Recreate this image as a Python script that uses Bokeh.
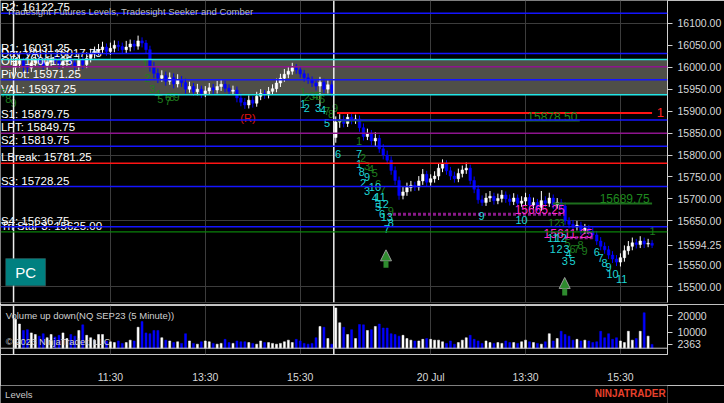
from bokeh.plotting import figure
from bokeh.layouts import column
from bokeh.models import (Range1d, FixedTicker, NumeralTickFormatter, Span, BoxAnnotation,
                          Label, Grid, Arrow, NormalHead, ColumnDataSource)
from bokeh.core.properties import value
from bokeh.embed import file_html
from bokeh.resources import INLINE

FONT = "Liberation Sans"
BG = "#000000"
UP = "#ffffff"
DOWN = "#0000ff"
GRID = "#3c3c3c"
AXIS_TXT = "#d8d8d8"
CYAN_TXT = "#1ed6d6"
GREEN_TXT = "#1f7d1f"

# ---------------- data: NQ SEP23, 5 minute bars (19 Jul 09:30 - 20 Jul 16:15) ----------------
opens = [16000, 16008, 16015, 16002, 15998, 16010, 16018, 16012, 16004, 16012,
         16020, 16014, 16006, 16013, 16019, 16010, 16002, 16016, 16006, 16020,
         16030, 16036, 16040, 16046, 16036, 16043, 16050, 16047, 16040, 16046,
         16053, 16048, 16060, 16055, 16040, 16000, 15986, 15975, 15981, 15968,
         15976, 15962, 15972, 15965, 15950, 15956, 15944, 15950, 15940, 15946,
         15953, 15948, 15956, 15961, 15952, 15945, 15948, 15930, 15920, 15914,
         15925, 15918, 15934, 15940, 15937, 15945, 15951, 15964, 15975, 15984,
         15991, 15999, 15994, 15985, 15976, 15971, 15964, 15957, 15966, 15950,
         15960, 15840, 15875, 15880, 15872, 15886, 15879, 15882, 15862, 15842,
         15848, 15832, 15838, 15814, 15800, 15788, 15765, 15742, 15708, 15716,
         15726, 15731, 15727, 15741, 15756, 15738, 15746, 15752, 15770, 15781,
         15764, 15752, 15746, 15758, 15766, 15770, 15742, 15722, 15698, 15692,
         15702, 15706, 15696, 15701, 15709, 15700, 15694, 15702, 15690, 15695,
         15703, 15686, 15692, 15681, 15696, 15690, 15702, 15686, 15692, 15684,
         15650, 15642, 15636, 15640, 15628, 15633, 15626, 15618, 15604, 15592,
         15584, 15572, 15563, 15556, 15566, 15582, 15592, 15600, 15596, 15604,
         15597, 15599]
highs = [16021, 16027, 16022, 16013, 16024, 16030, 16026, 16022, 16025, 16033,
         16029, 16024, 16026, 16031, 16027, 16020, 16030, 16024, 16034, 16042,
         16047, 16053, 16058, 16054, 16056, 16061, 16060, 16056, 16060, 16063,
         16062, 16072, 16068, 16062, 16049, 16012, 15997, 15993, 15990, 15988,
         15986, 15984, 15980, 15974, 15967, 15964, 15962, 15958, 15957, 15964,
         15962, 15969, 15971, 15969, 15961, 15958, 15956, 15940, 15930, 15936,
         15934, 15944, 15950, 15948, 15955, 15961, 15974, 15985, 15996, 16002,
         16010, 16007, 16002, 15994, 15986, 15979, 15973, 15978, 15974, 15970,
         15968, 15888, 15893, 15890, 15896, 15894, 15892, 15890, 15872, 15860,
         15857, 15852, 15846, 15825, 15810, 15797, 15774, 15751, 15727, 15737,
         15741, 15739, 15752, 15768, 15764, 15756, 15763, 15781, 15790, 15788,
         15773, 15762, 15769, 15776, 15783, 15778, 15751, 15731, 15708, 15713,
         15718, 15714, 15712, 15720, 15717, 15710, 15713, 15710, 15706, 15714,
         15711, 15703, 15700, 15718, 15706, 15714, 15710, 15702, 15700, 15692,
         15658, 15652, 15650, 15648, 15643, 15641, 15635, 15627, 15613, 15601,
         15593, 15581, 15572, 15576, 15594, 15604, 15612, 15609, 15615, 15612,
         15609, 15606]
lows = [15988, 15999, 15990, 15986, 15989, 16001, 16003, 15995, 15994, 16002,
        16005, 15996, 15998, 16003, 16000, 15993, 15994, 15996, 15998, 16011,
        16020, 16027, 16031, 16026, 16028, 16034, 16037, 16030, 16032, 16036,
        16038, 16040, 16045, 16031, 15990, 15975, 15964, 15967, 15958, 15960,
        15952, 15954, 15955, 15940, 15942, 15935, 15936, 15930, 15932, 15938,
        15938, 15940, 15946, 15943, 15936, 15937, 15920, 15911, 15905, 15906,
        15908, 15910, 15925, 15928, 15929, 15937, 15943, 15955, 15967, 15975,
        15983, 15985, 15976, 15967, 15962, 15955, 15947, 15912, 15941, 15940,
        15933, 15828, 15862, 15863, 15864, 15870, 15871, 15853, 15833, 15834,
        15822, 15820, 15805, 15790, 15779, 15755, 15732, 15698, 15699, 15707,
        15717, 15718, 15719, 15732, 15729, 15730, 15737, 15743, 15761, 15755,
        15743, 15737, 15738, 15749, 15757, 15733, 15713, 15689, 15684, 15684,
        15693, 15687, 15688, 15692, 15691, 15685, 15686, 15681, 15682, 15686,
        15677, 15678, 15672, 15673, 15681, 15682, 15677, 15678, 15675, 15641,
        15633, 15627, 15628, 15619, 15620, 15617, 15609, 15595, 15583, 15575,
        15563, 15554, 15547, 15546, 15557, 15573, 15583, 15587, 15588, 15588,
        15590, 15588]
closes = [16008, 16015, 16002, 15998, 16010, 16018, 16012, 16004, 16012, 16020,
          16014, 16006, 16013, 16019, 16010, 16002, 16016, 16006, 16020, 16030,
          16036, 16040, 16046, 16036, 16043, 16050, 16047, 16040, 16046, 16053,
          16048, 16060, 16055, 16040, 16000, 15986, 15975, 15981, 15968, 15976,
          15962, 15972, 15965, 15950, 15956, 15944, 15950, 15940, 15946, 15953,
          15948, 15956, 15961, 15952, 15945, 15948, 15930, 15920, 15914, 15925,
          15918, 15934, 15940, 15937, 15945, 15951, 15964, 15975, 15984, 15991,
          15999, 15994, 15985, 15976, 15971, 15964, 15957, 15966, 15950, 15960,
          15942, 15875, 15880, 15872, 15886, 15879, 15882, 15862, 15842, 15848,
          15832, 15838, 15814, 15800, 15788, 15765, 15742, 15708, 15716, 15726,
          15731, 15727, 15741, 15756, 15738, 15746, 15752, 15770, 15781, 15764,
          15752, 15746, 15758, 15766, 15770, 15742, 15722, 15698, 15692, 15702,
          15706, 15696, 15701, 15709, 15700, 15694, 15702, 15690, 15695, 15703,
          15686, 15692, 15681, 15696, 15690, 15702, 15686, 15692, 15684, 15650,
          15642, 15636, 15640, 15628, 15633, 15626, 15618, 15604, 15592, 15584,
          15572, 15563, 15556, 15566, 15582, 15592, 15600, 15596, 15604, 15597,
          15599, 15594.25]
volumes = [18000, 15000, 11000, 11500, 9500, 8500, 7500, 9000, 6500, 8500,
           7000, 8000, 9500, 6000, 8500, 7500, 11000, 14500, 8000, 6500,
           5000, 8500, 8500, 4500, 4000, 3500, 4500, 3000, 3500, 5000,
           4500, 13000, 16500, 9500, 9000, 11000, 11000, 6500, 5000, 4500,
           3500, 4000, 3000, 9000, 4500, 3000, 2500, 4000, 4500, 4000,
           3000, 2500, 3000, 5500, 3500, 3000, 4500, 4000, 4000, 3500,
           3000, 2500, 4500, 3500, 3500, 3000, 2500, 3000, 4000, 5000,
           3500, 5500, 4500, 3000, 2500, 3000, 6500, 13500, 13000, 6000,
           2500, 25000, 15800, 13000, 8500, 11500, 6000, 14700, 14500, 11000,
           11500, 13500, 15000, 12500, 12500, 9000, 8500, 7500, 8000, 6000,
           5000, 4500, 4500, 5500, 6000, 5500, 5000, 5000, 4000, 3000,
           4500, 2500, 3500, 5000, 6500, 8000, 5500, 4500, 3000, 4500,
           3500, 3000, 3500, 3000, 4500, 3500, 3500, 3000, 4000, 5000,
           4000, 3500, 3000, 2500, 4000, 9000, 4500, 6000, 10500, 8500,
           7500, 5000, 5500, 4500, 5000, 4500, 3500, 4000, 10500, 6500,
           9000, 5500, 6500, 4500, 3500, 10500, 5000, 6000, 10500, 22000,
           7500, 2363]

tick_bars = [24, 48, 72, 105, 129, 153]
tick_labels = ["11:30", "13:30", "15:30", "20 Jul", "13:30", "15:30"]
session_breaks = [-0.5, 80.5]
price_ticks = [15500, 15550, 15650, 15700, 15750, 15800, 15850, 15900,
               15950, 16000, 16050, 16100]
price_grid = [15500, 15650, 15800, 15950, 16100]
volume_ticks = [10000, 20000]

# Tradesight levels
level_names = ["R2", "R1", "Day VAH", "OH", "Pivot", "VAL", "S1", "LPT", "S2",
               "LBreak", "S3", "S4", "Tri Star 3"]
level_values = [16122.75, 16031.25, 16017.75, 16001.25, 15971.25, 15937.25, 15879.75,
                15849.75, 15819.75, 15781.25, 15728.25, 15636.75, 15625.00]
level_kinds = ["pivot", "pivot", "va", "on", "pivot", "va", "pivot", "lpt", "pivot",
               "break", "pivot", "pivot", "tristar"]

# Seeker / Comber targets (partial lines)
target_values = [15895.75, 15878.50, 15689.75]
target_start = [81.3, 81.3, 135.9]
target_end = [161.0, 142.7, 161.0]
target_text = ["", "15878.50", "15689.75"]
target_kinds = ["red", "green", "green"]

comber_values = [15665.25, 15611.25]
comber_start = [94.2, 138.9]
comber_end = [138.9, 146.0]

# Seeker count numbers
green_text = ["7", "8", "9",
              "1", "2", "3", "4", "5", "6", "7", "8", "9",
              "1", "2", "3", "4", "5", "6", "7", "8", "9",
              "1", "2", "3", "4", "5", "6", "7", "9",
              "12", "3", "5", "6", "7", "8", "9", "1"]
green_x = [-3.0, -1.8, -0.5,
           32.8, 33.3, 34.6, 35.9, 36.6, 38.6, 38.6, 39.6, 40.7,
           72.7, 73.7, 75.0, 75.8, 76.8, 77.5, 78.8, 79.8, 80.8,
           86.9, 87.9, 88.9, 89.9, 90.9, 91.7, 92.9, 94.9,
           136.2, 138.1, 139.6, 140.9, 141.9, 142.9, 143.9, 161.1]
green_y = [15942, 15928, 15919,
           16008, 15976, 15951, 15938, 15928, 15933, 15922, 15933, 15933,
           15944, 15933, 15935, 15935, 15935, 15928, 15901, 15894, 15908,
           15833, 15794, 15774, 15769, 15758, 15735, 15721, 15673,
           15644, 15644, 15600, 15587, 15587, 15596, 15582, 15628]
cyan_text = ["1", "2", "3", "4", "5",
             "6", "7", "1", "8", "9", "2", "10", "3", "4", "11", "12", "5", "6",
             "13", "8", "7", "9", "10",
             "11", "12", "1", "2", "3", "4", "3", "5", "6", "7", "8", "9", "10", "11"]
cyan_x = [72.7, 73.7, 76.5, 77.8, 78.8,
          81.6, 86.9, 86.9, 87.6, 88.9, 87.9, 90.9, 88.9, 90.9, 92.2, 92.9, 91.7, 92.7,
          93.9, 94.9, 93.9, 117.9, 128.0,
          135.9, 137.9, 135.9, 137.6, 139.4, 139.9, 138.9, 140.9, 147.0, 148.0, 149.0,
          150.0, 151.0, 153.3]
cyan_y = [15917, 15906, 15906, 15903, 15874,
          15803, 15803, 15780, 15762, 15749, 15737, 15728, 15719, 15703, 15705, 15689,
          15682, 15666, 15658, 15644, 15632, 15660, 15653,
          15612, 15612, 15587, 15587, 15587, 15575, 15559, 15559, 15578, 15566, 15555,
          15544, 15530, 15518]

signal_x = [93.7, 138.9]
signal_tail = [15543, 15480]
signal_head = [15584, 15521]

last_price = closes[-1]
last_volume = volumes[-1]

# ---------------- derived ----------------
bars = list(range(len(closes)))
colors = [UP if c >= o else DOWN for o, c in zip(opens, closes)]
src = ColumnDataSource(dict(
    x=bars, h=highs, l=lows,
    top=[max(o, c) for o, c in zip(opens, closes)],
    bot=[min(o, c) for o, c in zip(opens, closes)],
    v=volumes, color=colors))

kind_color = {"pivot": "#1414ff", "va": "#22e6e6", "on": "#8e148e", "lpt": "#8e148e",
              "break": "#ff1414", "tristar": "#0a820a"}
target_color = {"red": "#ff1414", "green": "#1d6e1d"}

W = 724
xr = Range1d(-3.8, 164.9)


def style(p):
    p.background_fill_color = BG
    p.border_fill_color = BG
    p.outline_line_color = None
    p.grid.visible = False
    for ax in p.yaxis:
        ax.axis_line_color = "#d0d0d0"
        ax.major_tick_line_color = "#d0d0d0"
        ax.minor_tick_line_color = None
        ax.major_tick_out = 5
        ax.major_tick_in = 0
        ax.major_label_text_color = AXIS_TXT
        ax.major_label_text_font = FONT
        ax.major_label_text_font_size = "10.5px"
        ax.major_label_standoff = 5


# ---------------- price panel ----------------
p1 = figure(width=W, height=304, x_range=xr, y_range=Range1d(15464, 16152),
            output_backend="svg", toolbar_location=None, x_axis_location=None,
            y_axis_location="right", min_border_left=0, min_border_top=0,
            min_border_bottom=2, min_border_right=56)
style(p1)
p1.yaxis.ticker = FixedTicker(ticks=sorted(price_ticks + [last_price]))
p1.yaxis.formatter = NumeralTickFormatter(format="0.00")

p1.add_layout(Grid(dimension=0, ticker=FixedTicker(ticks=tick_bars), grid_line_color=GRID))
p1.add_layout(Grid(dimension=1, ticker=FixedTicker(ticks=price_grid), grid_line_color=GRID))

vah = level_values[level_names.index("Day VAH")]
val = level_values[level_names.index("VAL")]
p1.add_layout(BoxAnnotation(bottom=val, top=vah, fill_color="#4f4f48", fill_alpha=1,
                            line_color=None, level="underlay"))

for sb in session_breaks:
    p1.add_layout(Span(location=sb, dimension="height", line_color="#f0f0f0", line_width=1.5))

for v, k in zip(level_values, level_kinds):
    p1.add_layout(Span(location=v, dimension="width", line_color=kind_color[k],
                       line_width=1.5 if k != "tristar" else 1.2))

# candles
p1.segment(x0="x", y0="l", x1="x", y1="h", source=src, line_color="color", line_width=1)
p1.vbar(x="x", top="top", bottom="bot", width=0.65, source=src, fill_color="color",
        line_color="color", line_width=0.5)

# target lines
for v, s, e, t, k in zip(target_values, target_start, target_end, target_text, target_kinds):
    p1.segment(x0=[s], y0=[v], x1=[e], y1=[v], line_color=target_color[k], line_width=2)
    if t:
        p1.text(x=[e - 0.6], y=[v], text=[t], text_font=value(FONT), text_font_size="12px",
                text_color="#1f8a1f", text_align="right", text_baseline="bottom")
p1.text(x=[163.1], y=[target_values[0]], text=["1"], text_font=value(FONT),
        text_font_size="13px", text_color="#ff2020", text_align="center",
        text_baseline="middle")

for v, s, e in zip(comber_values, comber_start, comber_end):
    p1.segment(x0=[s], y0=[v], x1=[e], y1=[v], line_color="#8a1a8a", line_width=3,
               line_dash="3 2")
    p1.text(x=[e], y=[v], text=[f"{v:.2f}"], text_font=value(FONT), text_font_size="12px",
            text_color="#ff2ad2", text_align="right", text_baseline="bottom")

# level labels
level_labels = [f"{n}: {v:.2f}" for n, v in zip(level_names, level_values)]
p1.text(x=-3.7, y=level_values, text=level_labels, text_font=value(FONT),
        text_font_size="11.5px", text_color="#ffffff", text_align="left",
        text_baseline="bottom")

# counts
p1.text(x=green_x, y=green_y, text=green_text, text_font=value(FONT), text_font_size="11px",
        text_color=GREEN_TXT, text_align="center", text_baseline="middle")
p1.text(x=cyan_x, y=cyan_y, text=cyan_text, text_font=value(FONT), text_font_size="11px",
        text_color=CYAN_TXT, text_align="center", text_baseline="middle")
p1.text(x=[58.8], y=[15885], text=["(R)"], text_font=value(FONT), text_font_size="11px",
        text_color="#e01414", text_align="center", text_baseline="middle")

# signal arrows
for sx, st, sh in zip(signal_x, signal_tail, signal_head):
    p1.add_layout(Arrow(end=NormalHead(size=11, fill_color="#2e8b2e", line_color="#9a9a9a",
                                       line_width=1),
                        x_start=sx, y_start=st, x_end=sx, y_end=sh,
                        line_color="#2e8b2e", line_width=5))

# title, PC button
p1.add_layout(Label(x=-2.3, y=16127, text="Tradesight Futures Levels, Tradesight Seeker and Comber",
                    text_font=FONT, text_font_size="9.5px", text_color="#bdbdbd",
                    text_baseline="middle"))
p1.add_layout(BoxAnnotation(left=-2.5, right=7.6, bottom=15502, top=15564,
                            fill_color="#008080", fill_alpha=1, line_color="#666666",
                            line_width=1))
p1.add_layout(Label(x=2.55, y=15533, text="PC", text_font=FONT, text_font_size="15px",
                    text_color="#ffffff", text_align="center", text_baseline="middle"))

# ---------------- volume panel ----------------
p2 = figure(width=W, height=81, x_range=xr, y_range=Range1d(-3900, 26500),
            output_backend="svg", toolbar_location=None, x_axis_location="below",
            y_axis_location="right", min_border_left=0, min_border_top=1,
            min_border_bottom=28, min_border_right=56)
style(p2)
p2.outline_line_color = "#c8c8c8"
p2.yaxis.ticker = FixedTicker(ticks=[last_volume] + volume_ticks)
p2.yaxis.formatter = NumeralTickFormatter(format="0")
ax = p2.xaxis[0]
ax.ticker = FixedTicker(ticks=tick_bars)
ax.major_label_overrides = {b: t for b, t in zip(tick_bars, tick_labels)}
ax.axis_line_color = None
ax.major_tick_line_color = None
ax.minor_tick_line_color = None
ax.major_label_standoff = 10
ax.major_label_text_color = AXIS_TXT
ax.major_label_text_font = FONT
ax.major_label_text_font_size = "10.5px"

p2.add_layout(Grid(dimension=0, ticker=FixedTicker(ticks=tick_bars), grid_line_color=GRID))
for sb in session_breaks:
    p2.add_layout(Span(location=sb, dimension="height", line_color="#f0f0f0", line_width=1.5))
p2.add_layout(Span(location=0, dimension="width", line_color="#c8c8c8", line_width=1))

p2.vbar(x="x", top="v", bottom=0, width=0.5, source=src, fill_color="color",
        line_color="color", line_width=0.5)

p2.add_layout(Label(x=-2.5, y=20000, text="Volume up down(NQ SEP23 (5 Minute))",
                    text_font=FONT, text_font_size="9.5px", text_color="#d0d0d0",
                    text_baseline="middle"))
p2.add_layout(Label(x=-2.5, y=4300, text="\u00a9 2023 NinjaTrader, LLC",
                    text_font=FONT, text_font_size="9.5px", text_color="#d0d0d0",
                    text_baseline="middle"))

# ---------------- footer strip ----------------
p3 = figure(width=W, height=18, x_range=Range1d(0, W), y_range=Range1d(0, 18),
            output_backend="svg", toolbar_location=None, x_axis_location=None,
            y_axis_location=None, min_border=0)
p3.background_fill_color = BG
p3.border_fill_color = BG
p3.outline_line_color = None
p3.grid.visible = False
p3.text(x=[5], y=[9], text=["Levels"], text_font=value(FONT), text_font_size="9.5px",
        text_color="#c8c8c8", text_baseline="middle")
p3.text(x=[722], y=[10], text=["NINJATRADER"], text_font=value(FONT), text_font_size="10px",
        text_font_style="bold", text_color="#e8412c", text_align="right",
        text_baseline="middle")

layout = column(p1, p2, p3, spacing=0)
open("out.html", "w").write(file_html(layout, INLINE))
